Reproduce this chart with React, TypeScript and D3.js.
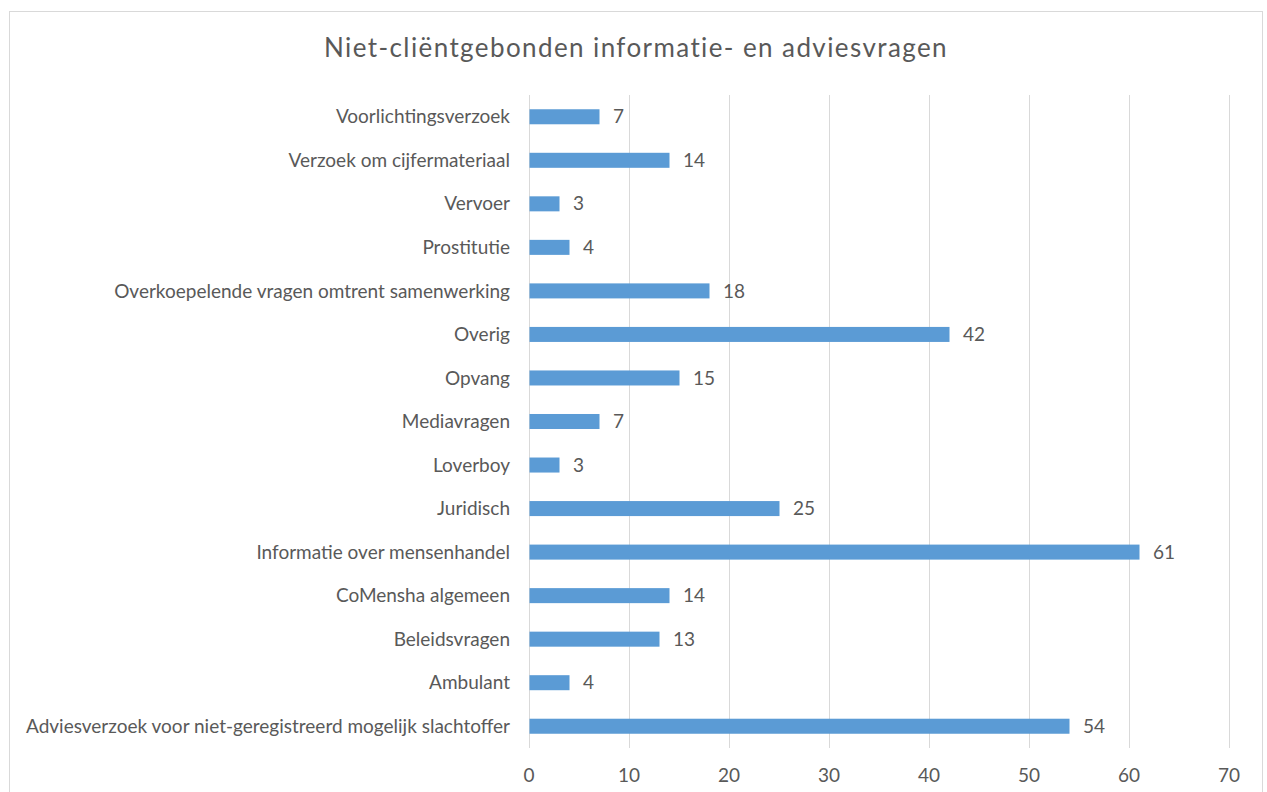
import React from "react";
import * as d3 from "d3";

const width = 1267,
  height = 792;

// categories top to bottom
const categories = [
  "Voorlichtingsverzoek",
  "Verzoek om cijfermateriaal",
  "Vervoer",
  "Prostitutie",
  "Overkoepelende vragen omtrent samenwerking",
  "Overig",
  "Opvang",
  "Mediavragen",
  "Loverboy",
  "Juridisch",
  "Informatie over mensenhandel",
  "CoMensha algemeen",
  "Beleidsvragen",
  "Ambulant",
  "Adviesverzoek voor niet-geregistreerd mogelijk slachtoffer",
];
const values = [7, 14, 3, 4, 18, 42, 15, 7, 3, 25, 61, 14, 13, 4, 54];
const xTicks = [0, 10, 20, 30, 40, 50, 60, 70];

const title = "Niet-cliëntgebonden informatie- en adviesvragen";
const font = "Lato, 'Open Sans', sans-serif";
const textColor = "#595959";

export default function App() {
  // plot area
  const left = 529,
    right = 1229,
    top = 95,
    bottom = 748;

  const x = d3.scaleLinear().domain([0, 70]).range([left, right]);
  const y = d3
    .scaleBand()
    .domain(categories)
    .range([top, bottom])
    .paddingInner(0.655)
    .paddingOuter(0.3275);

  return (
    <div style={{ position: "absolute", left: 0, top: 0 }}>
      <svg width={width} height={height} style={{ display: "block", background: "#fff" }}>
        {/* chart frame */}
        <rect x={9.5} y={11.5} width={1253} height={800} fill="#fff" stroke="#d9d9d9" strokeWidth={1} />

        <text
          x={636}
          y={57}
          textAnchor="middle"
          fontFamily={font}
          fontSize={26}
          letterSpacing={1.4}
          fill={textColor}
        >
          {title}
        </text>

        {/* gridlines */}
        <g>
          {xTicks.map((t) => (
            <line
              key={t}
              x1={x(t) + 0.5}
              x2={x(t) + 0.5}
              y1={top}
              y2={bottom}
              stroke="#d9d9d9"
              strokeWidth={1}
            />
          ))}
        </g>

        {/* bars */}
        <g>
          {categories.map((c, i) => (
            <rect
              key={c}
              x={x(0) + 0.5}
              y={y(c)}
              width={x(values[i]) - x(0)}
              height={y.bandwidth()}
              fill="#5b9bd5"
            />
          ))}
        </g>

        {/* category labels */}
        <g fontFamily={font} fontSize={19} fill={textColor}>
          {categories.map((c) => (
            <text key={c} x={510} y={y(c)! + y.bandwidth() / 2} dy="0.35em" textAnchor="end">
              {c}
            </text>
          ))}
        </g>

        {/* value labels */}
        <g fontFamily={font} fontSize={19} fill={textColor}>
          {categories.map((c, i) => (
            <text key={c} x={x(values[i]) + 14} y={y(c)! + y.bandwidth() / 2} dy="0.35em">
              {values[i]}
            </text>
          ))}
        </g>

        {/* x tick labels */}
        <g fontFamily={font} fontSize={19} fill={textColor}>
          {xTicks.map((t) => (
            <text key={t} x={x(t)} y={775} dy="0.35em" textAnchor="middle">
              {t}
            </text>
          ))}
        </g>
      </svg>
    </div>
  );
}
